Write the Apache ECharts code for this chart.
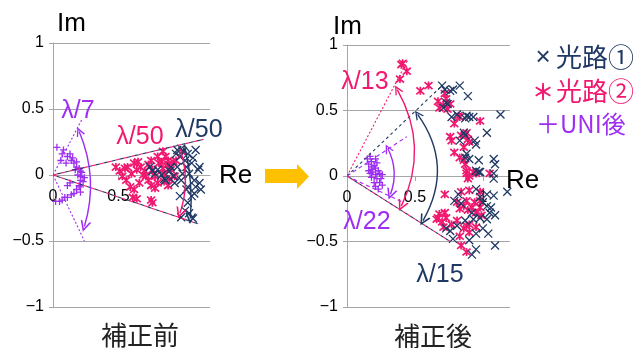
<!DOCTYPE html>
<html><head><meta charset="utf-8">
<script src="https://cdn.jsdelivr.net/npm/echarts@6/dist/echarts.min.js"></script>
<style>html,body{margin:0;padding:0;background:#fff}#c{width:641px;height:348px}</style>
</head><body><div id="c"></div>
<script>
// ---- tick labels ----
const xLabelsLeft = [0, 0.5];
const xLabelsRight = [0, 0.5, 1];
const xTickValues = [0, 0.5, 1];

// ---- 補正前 (before correction) ----
const navyBefore = [[0.74,0.06],[0.76,0.03],[0.78,0.01],[0.80,0.04],[0.83,0.00],[0.85,-0.03],[0.86,-0.04],[0.89,0.03],[0.90,0.06],[0.92,-0.01],[0.93,-0.06],[0.94,0.16],[0.95,0.19],[0.97,0.14],[0.98,0.20],[0.99,0.18],[1.01,0.11],[1.02,0.06],[1.03,0.16],[1.04,0.01],[1.06,0.09],[1.07,0.13],[1.08,-0.04],[1.09,-0.09],[1.11,0.04],[1.12,-0.06],[1.13,-0.11],[1.06,-0.16],[1.03,-0.21],[1.01,-0.27],[1.04,-0.29],[1.07,-0.33],[1.08,-0.14],[1.02,-0.11],[0.98,-0.04],[0.97,-0.16],[0.99,0.01],[0.95,0.06],[1.09,0.19],[1.12,0.06],[0.98,-0.32],[1.03,-0.09]];
const pinkBefore = [[0.48,0.06],[0.51,0.03],[0.55,0.05],[0.57,0.06],[0.53,-0.01],[0.56,-0.04],[0.60,0.01],[0.62,0.09],[0.64,0.04],[0.65,0.10],[0.67,0.06],[0.69,0.00],[0.70,0.03],[0.73,0.08],[0.75,0.11],[0.76,0.04],[0.78,-0.01],[0.80,0.14],[0.81,0.09],[0.83,0.10],[0.84,0.05],[0.85,0.01],[0.88,0.08],[0.89,-0.03],[0.90,0.04],[0.92,0.10],[0.93,-0.01],[0.94,0.11],[0.73,-0.04],[0.75,-0.08],[0.78,-0.10],[0.66,-0.06],[0.62,-0.11],[0.64,-0.18],[0.75,-0.19],[0.76,-0.21],[0.80,-0.06],[0.85,-0.05],[0.88,-0.08],[0.71,-0.01],[0.59,-0.09],[0.86,0.14],[0.84,0.18],[0.88,0.11],[0.90,0.06],[0.61,-0.17]];
const purpleBefore = [[0.03,0.21],[0.07,0.16],[0.08,0.19],[0.11,0.14],[0.13,0.16],[0.14,0.11],[0.15,0.13],[0.16,0.09],[0.18,0.10],[0.18,0.06],[0.20,0.05],[0.21,0.03],[0.22,0.02],[0.21,-0.01],[0.24,-0.02],[0.21,-0.04],[0.23,-0.05],[0.20,-0.08],[0.21,-0.09],[0.18,-0.11],[0.16,-0.14],[0.14,-0.15],[0.11,-0.17],[0.09,-0.17],[0.07,-0.19],[0.05,-0.20],[0.02,-0.20],[0.13,-0.06],[0.11,-0.08],[0.06,0.11],[0.10,0.09],[0.17,0.04],[0.19,0.00],[0.21,-0.13]];

// ---- 補正後 (after correction) ----
const navyAfter = [[0.70,0.69],[0.72,0.66],[0.76,0.65],[0.78,0.66],[0.83,0.69],[0.89,0.61],[0.73,0.56],[0.74,0.55],[0.77,0.45],[0.81,0.47],[0.88,0.46],[0.90,0.45],[0.93,0.45],[1.13,0.47],[1.03,0.33],[0.86,0.33],[0.87,0.31],[0.83,0.27],[0.94,0.27],[0.95,0.24],[0.87,0.14],[0.90,0.13],[0.97,0.12],[1.08,0.13],[1.09,0.09],[0.95,0.04],[0.98,0.03],[1.08,0.02],[0.88,0.17],[0.71,0.52],[0.87,0.44],[0.97,0.03],[1.08,-0.02],[1.03,-0.14],[1.08,-0.15],[0.95,-0.10],[0.82,-0.14],[0.79,-0.19],[0.84,-0.21],[0.98,-0.16],[1.00,-0.20],[1.03,-0.23],[1.06,-0.24],[1.09,-0.30],[0.92,-0.28],[0.93,-0.33],[0.98,-0.32],[1.03,-0.33],[1.00,-0.40],[0.95,-0.44],[0.76,-0.42],[0.78,-0.48],[0.73,-0.40],[0.90,-0.49],[0.95,-0.56],[1.09,-0.53],[0.92,-0.60],[0.81,-0.38],[1.04,-0.44],[0.87,-0.34],[1.05,-0.28],[1.18,-0.12]];
const pinkAfter = [[0.40,0.85],[0.41,0.86],[0.44,0.80],[0.39,0.74],[0.54,0.65],[0.60,0.69],[0.67,0.57],[0.68,0.52],[0.71,0.54],[0.73,0.59],[0.74,0.51],[0.72,0.63],[0.76,0.55],[0.82,0.46],[0.79,0.40],[0.83,0.45],[0.98,0.42],[0.76,0.30],[0.77,0.27],[0.79,0.18],[0.83,0.14],[0.86,0.12],[0.87,0.09],[0.88,0.04],[0.84,0.31],[0.88,0.33],[0.89,0.28],[0.90,0.26],[0.86,0.22],[0.93,0.03],[0.95,0.02],[0.88,0.02],[0.89,-0.02],[0.90,0.00],[1.05,0.02],[0.72,-0.14],[0.84,-0.12],[0.90,-0.11],[0.98,-0.12],[0.81,-0.20],[0.83,-0.25],[0.86,-0.23],[0.88,-0.19],[0.89,-0.26],[0.92,-0.24],[0.94,-0.20],[0.95,-0.28],[0.98,-0.24],[0.99,-0.30],[0.68,-0.29],[0.72,-0.28],[0.66,-0.33],[0.70,-0.35],[0.73,-0.32],[0.71,-0.39],[0.77,-0.37],[0.81,-0.34],[0.86,-0.40],[0.88,-0.38],[0.90,-0.43],[0.83,-0.46],[0.84,-0.53],[0.88,-0.58],[0.90,-0.37],[0.95,-0.39],[0.98,-0.19],[0.67,-0.32]];
const purpleAfter = [[0.15,0.13],[0.17,0.15],[0.18,0.11],[0.16,0.09],[0.20,0.08],[0.18,0.05],[0.21,0.06],[0.19,0.03],[0.23,0.04],[0.21,0.01],[0.24,0.02],[0.18,-0.01],[0.22,-0.02],[0.25,-0.02],[0.20,-0.05],[0.24,-0.05],[0.21,-0.08],[0.26,-0.07],[0.23,-0.10],[0.18,0.07],[0.26,0.01],[0.17,0.02],[0.21,0.13],[0.16,0.04],[0.22,0.10]];

// ---- guide rays (end points, start at origin) and arcs (from, to) ----
const leftPurpleRays = [[0.22,0.42],[0.24,-0.50]];
const leftWedgeRays = [[1.15,0.27],[1.11,-0.37]];
const leftPurpleArc = [[0.20,0.33],[0.24,-0.39]];
const leftPinkArc = [[0.98,0.17],[0.97,-0.29]];
const leftNavyArc = [[1.01,0.20],[1.05,-0.33]];
const rightPinkRays = [[0.45,0.89],[0.76,-0.50]];
const rightNavyRays = [[0.70,0.69],[0.76,-0.50]];
const rightPurpleRays = [[0.44,0.30],[0.41,-0.20]];
const rightPurpleArc = [[0.30,0.21],[0.32,-0.14]];
const rightPinkArc = [[0.37,0.66],[0.40,-0.23]];
const rightNavyArc = [[0.52,0.47],[0.56,-0.34]];

const NAVY = '#1F3864', PINK = '#F2186F', PURPLE = '#9D2EF2', GRAY = '#A6A6A6';
const SYM_X = 'path://M0,0L10,10M10,0L0,10';
const SYM_STAR = 'path://M5,0L5,10M0.7,0.7L9.3,9.3M9.3,0.7L0.7,9.3';
const SYM_PLUS = 'path://M5,0L5,10M0,5L10,5';
const ARROW = 'path://M0,10L5,0L10,10L8.4,10L5,3.2L1.6,10Z';
const NUMFONT = 'Liberation Sans, Arial, sans-serif';
const CJK = '"Noto Sans CJK JP", sans-serif';

// grid layout (pixels)
const GRIDS = [{left:53, top:43, width:157, height:264}, {left:347, top:45, width:163, height:262}];

function xAxisCfg(gi, labels) {
  return {type:'value', gridIndex:gi, min:0, max:1.2, interval:0.5, position:'bottom',
    offset: -GRIDS[gi].height / 2,
    axisLine:{show:true, onZero:false, lineStyle:{color:GRAY, width:1}},
    axisTick:{show:true, length:5, customValues:xTickValues, lineStyle:{color:GRAY}},
    axisLabel:{customValues:labels, fontSize:16, color:'#000', margin:14, fontFamily:NUMFONT,
      formatter: v => String(v)},
    splitLine:{show:false}};
}
function yAxisCfg(gi) {
  return {type:'value', gridIndex:gi, min:-1, max:1, interval:0.5,
    axisLine:{show:true, onZero:false, lineStyle:{color:GRAY, width:1}},
    axisTick:{show:true, length:4, lineStyle:{color:GRAY}},
    axisLabel:{fontSize:16, color:'#000', margin:9, fontFamily:NUMFONT,
      formatter: v => v < 0 ? '\u2212' + Math.abs(v) : String(v)},
    splitLine:{show:true, lineStyle:{color:GRAY, width:1}}};
}
function scatter(gi, data, sym, color, size, bw) {
  return {type:'scatter', xAxisIndex:gi, yAxisIndex:gi, data:data, symbol:sym, symbolSize:size,
    itemStyle:{color:color, borderColor:color, borderWidth:bw, opacity:1}, silent:true, z:3};
}
function ray(end, color, dash, offset) {
  return {coords:[[0,0], end], lineStyle:{color:color, width:1.1, opacity:1, type:dash, dashOffset:offset||0, curveness:0}};
}
function arc(pts, color, c) {
  return {coords:[pts[0], pts[1]], lineStyle:{color:color, width:1.4, opacity:1, type:'solid', curveness:c}};
}
function raySeries(gi, data) {
  return {type:'lines', coordinateSystem:'cartesian2d', xAxisIndex:gi, yAxisIndex:gi, silent:true,
    symbol:['none','none'], lineStyle:{opacity:1}, data:data, z:4};
}
function arcSeries(gi, data) {
  return {type:'lines', coordinateSystem:'cartesian2d', xAxisIndex:gi, yAxisIndex:gi, silent:true,
    symbol:[ARROW, ARROW], symbolSize:[9,11], lineStyle:{opacity:1}, data:data, z:5};
}
function txt(x, y, s, color, size, family, align, weight) {
  return {type:'text', x:x, y:y, silent:true, z:10,
    style:{text:s, fill:color, font: (weight||'normal') + ' ' + size + 'px ' + family, textAlign:align||'center', textVerticalAlign:'middle'}};
}

const chart = echarts.init(document.getElementById('c'), null, {renderer:'canvas'});
chart.setOption({
  animation:false,
  backgroundColor:'#fff',
  grid:GRIDS,
  xAxis:[xAxisCfg(0, xLabelsLeft), xAxisCfg(1, xLabelsRight)],
  yAxis:[yAxisCfg(0), yAxisCfg(1)],
  series:[
    scatter(0, purpleBefore, SYM_PLUS, PURPLE, 7, 1.3),
    scatter(0, pinkBefore, SYM_STAR, PINK, 8, 1.7),
    scatter(0, navyBefore, SYM_X, NAVY, 8, 1.3),
    scatter(1, purpleAfter, SYM_PLUS, PURPLE, 7, 1.3),
    scatter(1, pinkAfter, SYM_STAR, PINK, 8, 1.7),
    scatter(1, navyAfter, SYM_X, NAVY, 8, 1.3),
    raySeries(0, [
      ray(leftPurpleRays[0], PURPLE, [2,2]), ray(leftPurpleRays[1], PURPLE, [2,2]),
      ray(leftWedgeRays[0], PINK, [4,4]), ray(leftWedgeRays[0], NAVY, [4,4], 4),
      ray(leftWedgeRays[1], PINK, [4,4]), ray(leftWedgeRays[1], NAVY, [4,4], 4)
    ]),
    arcSeries(0, [arc(leftPurpleArc, PURPLE, 0.18), arc(leftPinkArc, PINK, 0.16), arc(leftNavyArc, NAVY, 0.08)]),
    raySeries(1, [
      ray(rightPinkRays[0], PINK, [2,2]), ray(rightNavyRays[0], NAVY, [3,3]),
      ray(rightPurpleRays[0], PURPLE, [4,3]), ray(rightPurpleRays[1], PURPLE, [4,3]),
      ray(rightPinkRays[1], PINK, [3,3]), ray(rightNavyRays[1], NAVY, [3,3], 3)
    ]),
    arcSeries(1, [arc(rightPurpleArc, PURPLE, 0.22), arc(rightPinkArc, PINK, 0.26), arc(rightNavyArc, NAVY, 0.32)])
  ],
  graphic:[
    txt(57, 24, 'Im', '#000', 26, NUMFONT, 'left'),
    txt(333, 27, 'Im', '#000', 26, NUMFONT, 'left'),
    txt(219, 176, 'Re', '#000', 26, NUMFONT, 'left'),
    txt(506, 181, 'Re', '#000', 26, NUMFONT, 'left'),
    txt(78, 111, '\u03bb/7', PURPLE, 25, NUMFONT),
    txt(140, 137, '\u03bb/50', PINK, 25, NUMFONT),
    txt(199, 130, '\u03bb/50', NAVY, 25, NUMFONT),
    txt(365, 82, '\u03bb/13', PINK, 25, NUMFONT),
    txt(367, 222, '\u03bb/22', PURPLE, 25, NUMFONT),
    txt(440, 275, '\u03bb/15', NAVY, 25, NUMFONT),
    txt(140, 335, '補正前', '#222', 26, CJK),
    txt(433, 336, '補正後', '#222', 26, CJK),
    txt(543, 58, '×', NAVY, 26, NUMFONT, 'center'),
    txt(556, 57, '光路①', NAVY, 26, CJK, 'left'),
    txt(543, 92, '＊', PINK, 22, CJK, 'center', 'bold'),
    txt(556, 91, '光路②', PINK, 26, CJK, 'left'),
    txt(536, 124, '＋UNI後', PURPLE, 24, CJK, 'left'),
    {type:'polygon', silent:true, z:10,
      shape:{points:[[265,169],[297,169],[297,164],[309,176.5],[297,189],[297,183],[265,183]]},
      style:{fill:'#FFC000'}}
  ]
});
</script>
</body></html>
